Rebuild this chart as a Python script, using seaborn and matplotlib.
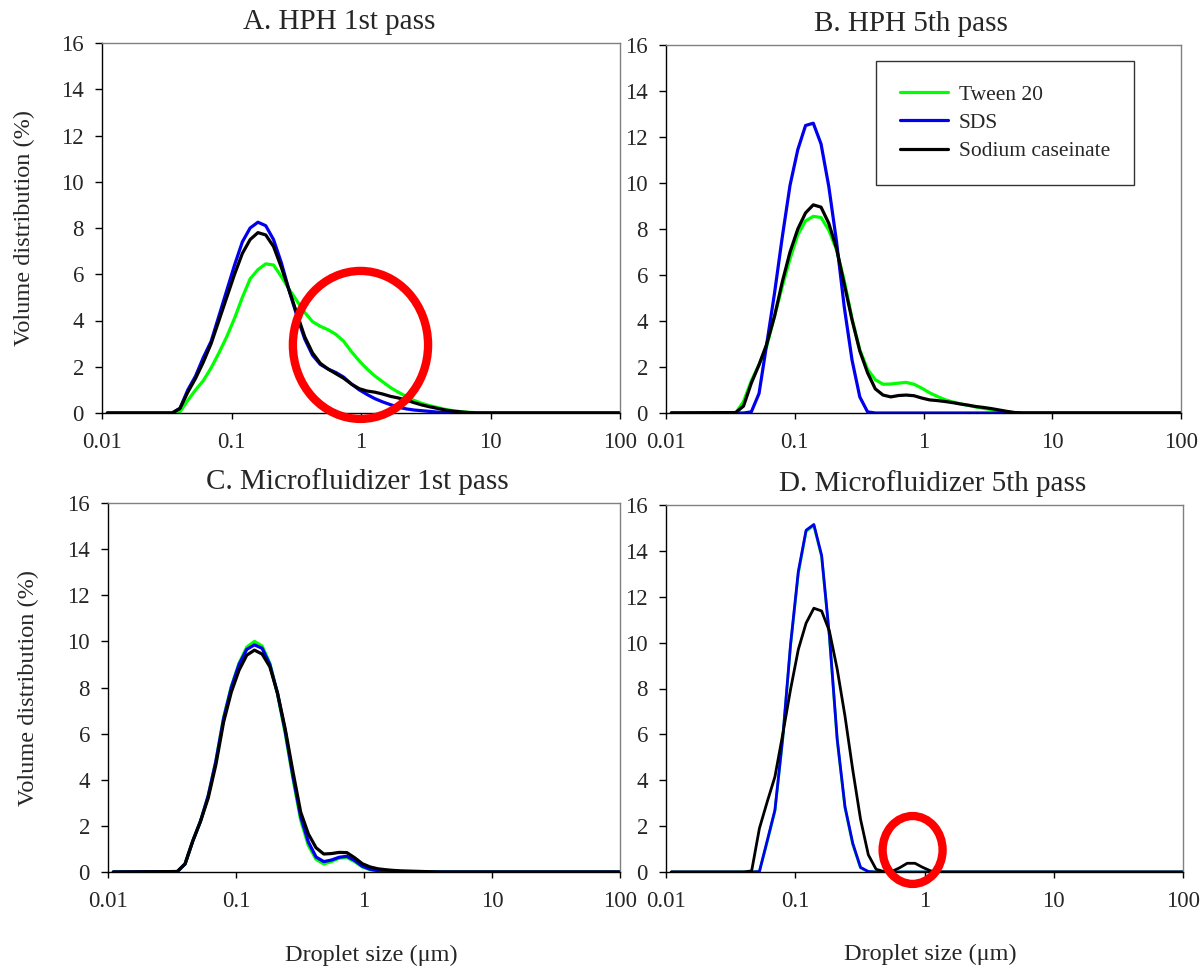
import matplotlib
matplotlib.use("Agg")
import matplotlib.pyplot as plt
from matplotlib.patches import Ellipse
from matplotlib.ticker import NullLocator
import seaborn as sns
import pandas as pd

# ---------------- data ----------------
size_um = [0.011, 0.0348, 0.040, 0.046, 0.0528, 0.0606, 0.0696, 0.080, 0.0919, 0.1056,
           0.1213, 0.1393, 0.160, 0.1838, 0.2111, 0.2425, 0.2786, 0.320, 0.3676, 0.4222,
           0.485, 0.5571, 0.640, 0.7352, 0.8445, 0.9701, 1.114, 1.280, 1.470, 1.689,
           1.940, 2.229, 2.560, 2.941, 3.378, 3.880, 4.457, 5.120, 5.881, 6.756,
           7.761, 8.914, 10.24, 100.0]

emulsifiers = ["Tween 20", "SDS", "Sodium caseinate"]
panel_titles = ["A. HPH 1st pass", "B. HPH 5th pass",
                "C. Microfluidizer 1st pass", "D. Microfluidizer 5th pass"]

a_tween = [0, 0, 0.05, 0.55, 1.0, 1.4, 1.95, 2.6, 3.3, 4.1, 5.0, 5.8, 6.2, 6.45, 6.4,
           5.9, 5.35, 4.85, 4.35, 3.95, 3.75, 3.6, 3.4, 3.1, 2.65, 2.25, 1.9, 1.6, 1.35,
           1.1, 0.9, 0.72, 0.55, 0.42, 0.32, 0.24, 0.16, 0.1, 0.06, 0.03, 0.01, 0, 0, 0]
a_sds = [0, 0, 0.2, 1.0, 1.6, 2.4, 3.1, 4.2, 5.3, 6.4, 7.4, 8.0, 8.25, 8.1, 7.5,
         6.5, 5.3, 4.2, 3.2, 2.5, 2.1, 1.9, 1.75, 1.55, 1.25, 1.0, 0.8, 0.62, 0.48,
         0.36, 0.25, 0.18, 0.13, 0.1, 0.07, 0.04, 0.02, 0, 0, 0, 0, 0, 0, 0]
a_cas = [0, 0, 0.2, 0.9, 1.5, 2.2, 3.0, 4.0, 5.0, 6.0, 6.9, 7.5, 7.8, 7.7, 7.2,
         6.3, 5.3, 4.3, 3.3, 2.6, 2.15, 1.9, 1.7, 1.5, 1.25, 1.05, 0.95, 0.9, 0.82,
         0.72, 0.65, 0.56, 0.45, 0.35, 0.27, 0.2, 0.13, 0.08, 0.05, 0.02, 0, 0, 0, 0]

b_tween = [0, 0, 0.5, 1.4, 2.1, 2.9, 4.2, 5.5, 6.7, 7.75, 8.35, 8.55, 8.5, 7.95, 7.1,
           5.75, 4.1, 2.75, 1.9, 1.45, 1.25, 1.26, 1.3, 1.33, 1.25, 1.08, 0.88, 0.72, 0.58,
           0.48, 0.4, 0.33, 0.26, 0.2, 0.15, 0.1, 0.04, 0.01, 0, 0, 0, 0, 0, 0]
b_sds = [0, 0, 0, 0.05, 0.85, 3.0, 5.2, 7.65, 9.9, 11.45, 12.5, 12.6, 11.7, 9.85, 7.45,
         4.6, 2.3, 0.7, 0.05, 0, 0, 0, 0, 0, 0, 0, 0, 0, 0,
         0, 0, 0, 0, 0, 0, 0, 0, 0, 0, 0, 0, 0, 0, 0]
b_cas = [0, 0.02, 0.3, 1.3, 2.1, 3.0, 4.2, 5.7, 7.0, 8.0, 8.7, 9.05, 8.95, 8.25, 7.15,
         5.6, 4.05, 2.7, 1.75, 1.05, 0.78, 0.7, 0.76, 0.78, 0.75, 0.65, 0.57, 0.54, 0.5,
         0.45, 0.39, 0.34, 0.28, 0.24, 0.19, 0.13, 0.07, 0.02, 0, 0, 0, 0, 0, 0]

c_tween = [0, 0.02, 0.35, 1.35, 2.2, 3.3, 4.8, 6.7, 8.05, 9.05, 9.75, 10.0, 9.8, 9.05, 7.7,
           6.0, 4.05, 2.25, 1.15, 0.55, 0.35, 0.45, 0.6, 0.63, 0.45, 0.22, 0.1, 0.05, 0.03,
           0.02, 0.01, 0, 0, 0, 0, 0, 0, 0, 0, 0, 0, 0, 0, 0]
c_sds = [0, 0.02, 0.35, 1.35, 2.2, 3.3, 4.8, 6.65, 8.0, 9.0, 9.65, 9.85, 9.7, 9.0, 7.75,
         6.1, 4.15, 2.4, 1.3, 0.65, 0.45, 0.52, 0.64, 0.68, 0.5, 0.25, 0.12, 0.06, 0.03,
         0.02, 0.01, 0, 0, 0, 0, 0, 0, 0, 0, 0, 0, 0, 0, 0]
c_cas = [0, 0.02, 0.35, 1.35, 2.2, 3.2, 4.65, 6.5, 7.8, 8.75, 9.4, 9.62, 9.45, 8.9, 7.75,
         6.2, 4.35, 2.6, 1.65, 1.05, 0.78, 0.8, 0.85, 0.84, 0.62, 0.36, 0.22, 0.14, 0.1,
         0.07, 0.05, 0.04, 0.03, 0.02, 0.01, 0, 0, 0, 0, 0, 0, 0, 0, 0]

d_tween = [0, 0, 0, 0, 0.02, 1.3, 2.65, 5.8, 9.85, 13.0, 14.85, 15.1, 13.75, 10.25, 5.75,
           2.8, 1.2, 0.18, 0.02, 0, 0, 0, 0, 0, 0, 0, 0, 0, 0,
           0, 0, 0, 0, 0, 0, 0, 0, 0, 0, 0, 0, 0, 0, 0]
d_sds = [0, 0, 0, 0, 0.02, 1.35, 2.7, 5.85, 9.9, 13.1, 14.9, 15.15, 13.8, 10.3, 5.8,
         2.85, 1.25, 0.2, 0.02, 0, 0, 0, 0, 0, 0, 0, 0, 0, 0,
         0, 0, 0, 0, 0, 0, 0, 0, 0, 0, 0, 0, 0, 0, 0]
d_cas = [0, 0, 0, 0.05, 1.9, 3.05, 4.15, 6.0, 7.95, 9.7, 10.85, 11.5, 11.38, 10.5, 8.85,
         6.8, 4.45, 2.3, 0.75, 0.12, 0.02, 0.02, 0.18, 0.38, 0.38, 0.2, 0.05, 0, 0,
         0, 0, 0, 0, 0, 0, 0, 0, 0, 0, 0, 0, 0, 0, 0]

x_ticks = [0.01, 0.1, 1, 10, 100]
x_tick_labels = ["0.01", "0.1", "1", "10", "100"]
y_ticks = [0, 2, 4, 6, 8, 10, 12, 14, 16]

panel_series = [
    (a_tween, a_sds, a_cas),
    (b_tween, b_sds, b_cas),
    (c_tween, c_sds, c_cas),
    (d_tween, d_sds, d_cas),
]

# ---------------- style ----------------
sns.set_theme(style="white")
plt.rcParams["font.family"] = ["Liberation Serif", "DejaVu Serif"]

palette = {"Tween 20": "#00FF00", "SDS": "#0000EE", "Sodium caseinate": "#000000"}

W, H = 1201, 968
fig = plt.figure(figsize=(W / 100, H / 100), dpi=100)


def box(l, t, r, b):
    return [l / W, 1 - b / H, (r - l) / W, (b - t) / H]


boxes = [box(102, 43, 620, 413), box(666, 45, 1181, 413),
         box(108, 503, 620, 872), box(666, 505, 1183, 872)]
title_x = [0.458, 0.476, 0.486, 0.516]
line_w = [2.3, 2.3, 2.3, 2.0]

axes = []
for i, (bx, series) in enumerate(zip(boxes, panel_series)):
    ax = fig.add_axes(bx)
    axes.append(ax)
    rows = []
    for name, vals in zip(emulsifiers, series):
        for s, v in zip(size_um, vals):
            rows.append({"size": s, "value": v, "emulsifier": name})
    df = pd.DataFrame(rows)
    sns.lineplot(data=df, x="size", y="value", hue="emulsifier",
                 hue_order=emulsifiers, palette=palette, estimator=None,
                 sort=False, linewidth=line_w[i], ax=ax, legend=(i == 1))
    ax.set_xscale("log")
    ax.set_xlim(0.01, 100)
    ax.set_ylim(0, 16)
    ax.set_xticks(x_ticks)
    ax.set_xticklabels(x_tick_labels)
    ax.xaxis.set_minor_locator(NullLocator())
    ax.set_yticks(y_ticks)
    ax.set_yticklabels([str(t) for t in y_ticks])
    ax.tick_params(axis="x", direction="out", length=4.5, width=1, color="black",
                   labelsize=16.5, pad=9.5, bottom=True)
    ax.tick_params(axis="y", direction="out", length=5, width=1, color="black",
                   labelsize=16.5, pad=8, left=True)
    for sp in ["left", "bottom"]:
        ax.spines[sp].set_color("black")
        ax.spines[sp].set_linewidth(1.0)
    for sp in ["top", "right"]:
        ax.spines[sp].set_color("#808080")
        ax.spines[sp].set_linewidth(1.0)
    ax.grid(False)
    ax.set_title(panel_titles[i], fontsize=21, x=title_x[i], pad=10)
    ax.set_xlabel("")
    ax.set_ylabel("")

for ax, lx in [(axes[0], -0.13), (axes[2], -0.135)]:
    ax.set_ylabel("Volume distribution (%)", fontsize=17.5)
    ax.yaxis.set_label_coords(lx, 0.5)

axes[2].set_xlabel("Droplet size (\u03bcm)", fontsize=17.5)
axes[2].xaxis.set_label_coords(0.514, -0.197)
axes[3].set_xlabel("Droplet size (\u03bcm)", fontsize=17.5)
axes[3].xaxis.set_label_coords(0.511, -0.197)

leg = axes[1].legend(title=None, loc="upper left", bbox_to_anchor=(0.408, 0.9565),
                     frameon=True, fancybox=False, edgecolor="black", fontsize=15.5,
                     handlelength=2.25, borderpad=1.1, labelspacing=0.38,
                     handletextpad=0.5, borderaxespad=0)
leg.get_frame().set_linewidth(1.0)
for h in leg.get_lines():
    h.set_linewidth(2.3)

# red highlight circles
axes[0].add_patch(Ellipse((0.499, 0.184), 0.261, 0.40, transform=axes[0].transAxes,
                          fill=False, edgecolor="#FF0000", linewidth=6, clip_on=False,
                          zorder=6))
axes[3].add_patch(Ellipse((0.477, 0.06), 0.116, 0.185, transform=axes[3].transAxes,
                          fill=False, edgecolor="#FF0000", linewidth=6, clip_on=False,
                          zorder=6))

fig.savefig("out.png", dpi=100, facecolor="white")
